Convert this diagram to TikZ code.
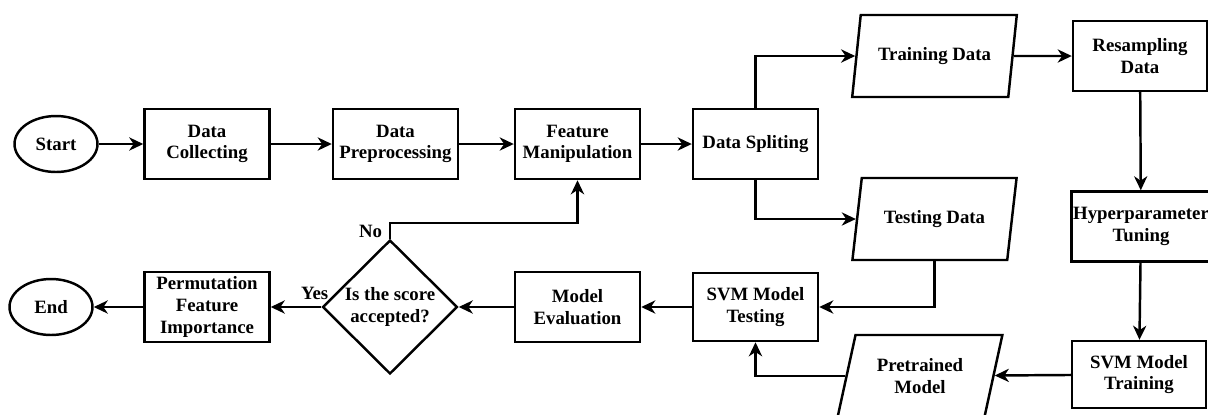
\documentclass[tikz,border=0pt]{standalone}
\usepackage{fontspec}
\setmainfont{Liberation Serif}
\usepackage{tikz}
\usetikzlibrary{arrows.meta, shapes, positioning}

\begin{document}
\begin{tikzpicture}[
    x=0.02cm, y=-0.02cm,
    every node/.style={font=\fontsize{10.7}{12.3}\selectfont\bfseries, align=center},
    procbox/.style={rectangle, draw, line width=1.4pt, minimum width=2.5cm,
                    minimum height=1.4cm, inner sep=1pt},
    iobox/.style={trapezium, trapezium left angle=72, trapezium right angle=108,
                  trapezium stretches=true, draw, line width=1.4pt,
                  minimum width=3.3cm, minimum height=1.64cm, inner sep=1pt},
    term/.style={ellipse, draw, line width=1.4pt, minimum width=1.66cm, minimum height=1.12cm},
    decision/.style={diamond, draw, line width=1.4pt, minimum width=2.7cm,
                     minimum height=2.68cm, inner sep=0pt},
    arrow/.style={-{Stealth[length=8pt, width=7.5pt, inset=2.5pt]}, line width=1.4pt}
]
\useasboundingbox (0,0) rectangle (1208,414);

% top row
\node[term]    (start)   at (56,144)    {Start};
\node[procbox] (collect) at (207,144)   {Data\\Collecting};
\node[procbox] (prep)    at (395.5,144) {Data\\Preprocessing};
\node[procbox] (feat)    at (577.5,144) {Feature\\Manipulation};
\node[procbox] (split)   at (755.5,144) {Data Spliting};

% data sets
\node[iobox] (trdata) at (934.5,56)  {Training Data};
\node[iobox] (tedata) at (934.5,219) {Testing Data};
\node[iobox] (pretr)  at (920,376)   {Pretrained\\Model};

% training column
\node[procbox, minimum width=2.68cm] (resample) at (1140,56)    {Resampling\\Data};
\node[procbox, minimum width=2.68cm] (hyper)    at (1141,226.5) {Hyperparameter\\Tuning};
\node[procbox, minimum width=2.68cm, minimum height=1.34cm] (svmtrain) at (1139,374.5) {SVM Model\\Training};

% bottom row
\node[procbox, minimum height=1.36cm] (svmtest) at (755.5,307) {SVM Model\\Testing};
\node[procbox] (evalm) at (577.5,307) {Model\\Evaluation};
\node[decision] (check) at (390,307) {Is the score\\accepted?};
\node[procbox] (pfi) at (207,307) {Permutation\\Feature\\Importance};
\node[term] (end) at (51,307) {End};

\foreach \from/\to in {start/collect, collect/prep, prep/feat, feat/split,
                       trdata/resample, resample/hyper, hyper/svmtrain, svmtrain/pretr,
                       svmtest/evalm, evalm/check, pfi/end}
    \draw[arrow] (\from) -- (\to);

\draw[arrow] (split.north) |- (trdata);
\draw[arrow] (split.south) |- (tedata);
\draw[arrow] (tedata.south) |- (svmtest.east);
\draw[arrow] (pretr.west) -| (svmtest.south);

% decision branches
\draw[arrow] (check.west) -- node[above, pos=0.2, xshift=2pt] {Yes} (pfi.east);
\draw[arrow] (check.north) -- ++(0,-16) -| (feat.south);
\node[above left=-3pt and 1pt of check.north] (no) {No};
\end{tikzpicture}
\end{document}
